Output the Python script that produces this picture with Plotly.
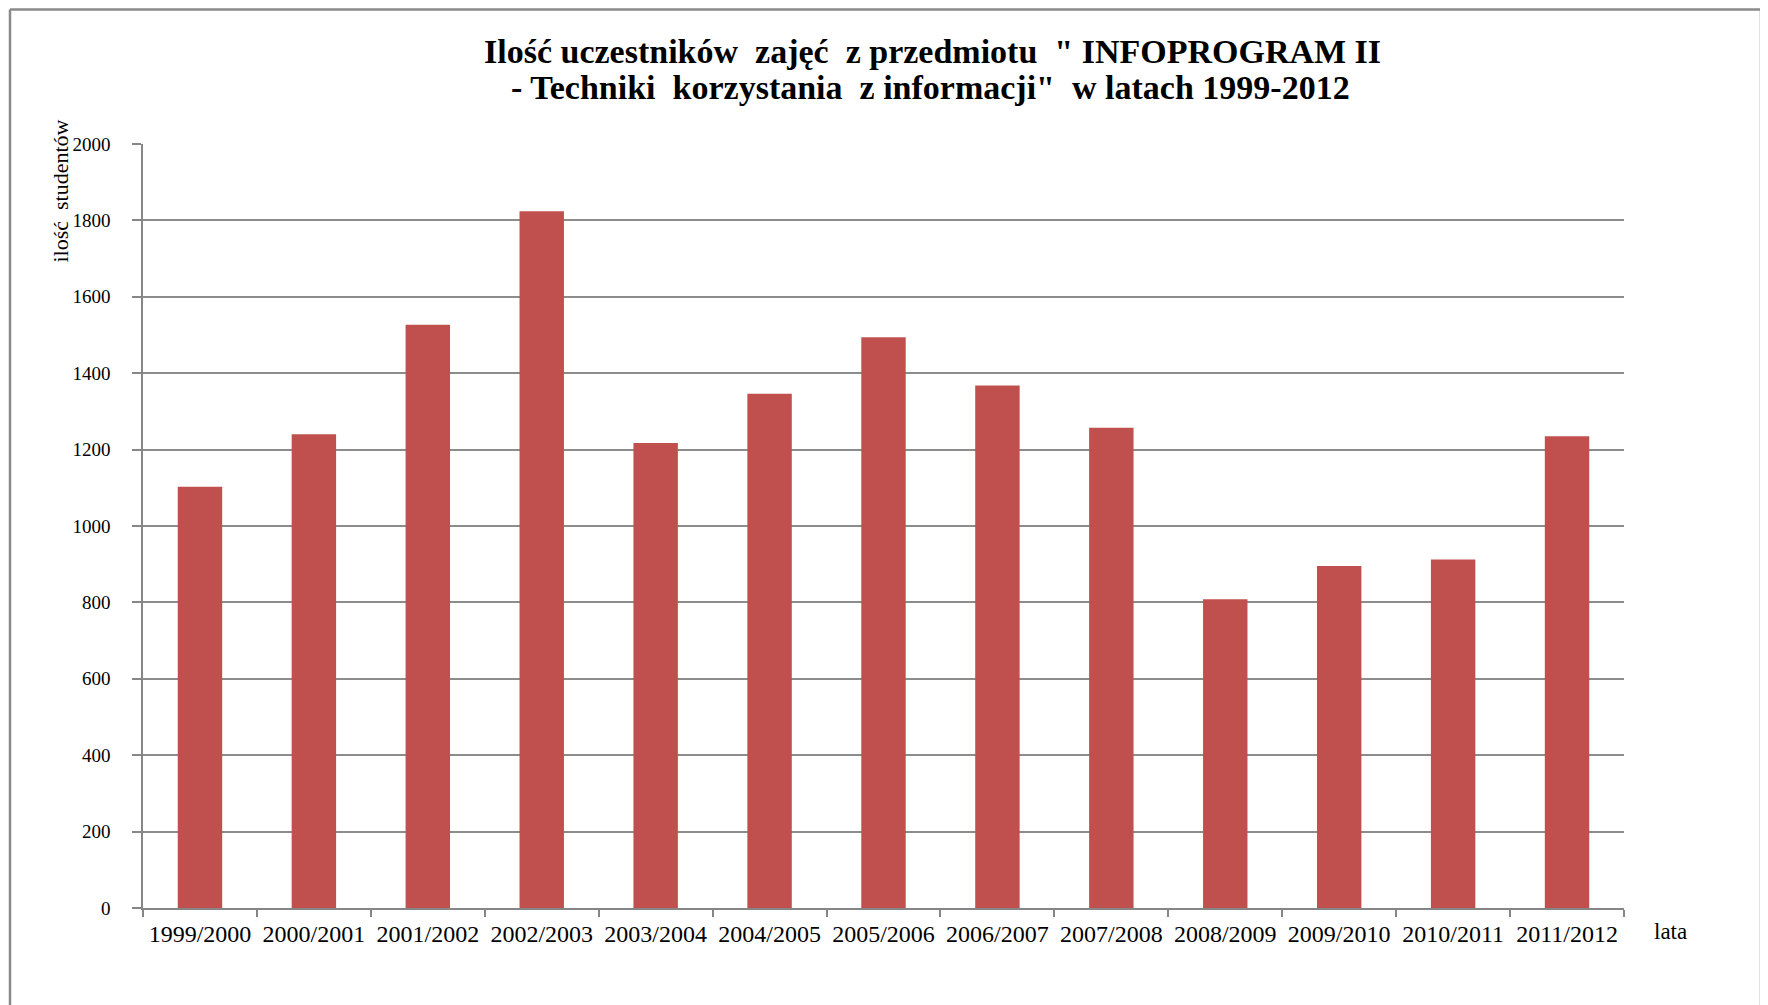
import plotly.graph_objects as go

categories = ["1999/2000", "2000/2001", "2001/2002", "2002/2003", "2003/2004",
              "2004/2005", "2005/2006", "2006/2007", "2007/2008", "2008/2009",
              "2009/2010", "2010/2011", "2011/2012"]
values = [1103, 1240, 1527, 1824, 1217, 1346, 1494, 1368, 1257, 808, 895, 912, 1235]
y_ticks = [0, 200, 400, 600, 800, 1000, 1200, 1400, 1600, 1800, 2000]

title_line1 = "Ilość uczestników  zajęć  z przedmiotu  \" INFOPROGRAM II"
title_line2 = "- Techniki  korzystania  z informacji\"  w latach 1999-2012"
y_title = "ilość  studentów"
x_title = "lata"

FONT = "Liberation Serif, Times New Roman, serif"
W, H = 1768, 1005
OFF = 8  # page offset of the figure (body margin)
# plot area in page pixels
PL, PR, PT, PB = 143, 1624, 144, 908
L, T = PL - OFF, PT - OFF
R, B = W - (PR - OFF), H - (PB - OFF)
pw, ph = PR - PL, PB - PT

def px(xp):
    return (xp - PL) / pw

def py(yp):
    return (PB - yp) / ph

fig = go.Figure()
fig.add_trace(go.Bar(x=categories, y=values, marker=dict(color="#C0504D", line=dict(width=0)),
                     width=0.39))

fig.update_layout(
    width=W, height=H,
    margin=dict(l=L, r=R, t=T, b=B),
    paper_bgcolor="white", plot_bgcolor="white",
    showlegend=False,
    font=dict(family=FONT, color="black"),
    xaxis=dict(type="category", tickson="boundaries", ticks="outside", ticklen=7,
               tickcolor="#868686", tickwidth=1.5, showline=True, linecolor="#868686",
               linewidth=1.5, showgrid=False, tickfont=dict(size=24, family=FONT),
               ticklabelstandoff=3, range=[-0.5, 12.5]),
    yaxis=dict(range=[0, 2000], tickvals=y_ticks, ticks="outside", ticklen=9,
               tickcolor="#868686", tickwidth=1.5, showline=True, linecolor="#868686",
               linewidth=1.5, showgrid=True, gridcolor="#8c8c8c", gridwidth=1.5,
               tickfont=dict(size=19, family=FONT), ticklabelstandoff=18,
               zeroline=False),
)

tfont = dict(family=FONT, size=34, color="black", weight="bold")
fig.add_annotation(text=title_line1, xref="paper", yref="paper", x=px(933), y=py(51),
                   xanchor="center", yanchor="middle", showarrow=False, font=tfont)
fig.add_annotation(text=title_line2, xref="paper", yref="paper", x=px(930), y=py(87),
                   xanchor="center", yanchor="middle", showarrow=False, font=tfont)

fig.add_annotation(text=y_title, textangle=-90, xref="paper", yref="paper",
                   x=px(60), y=py(118), xanchor="center", yanchor="top",
                   showarrow=False, font=dict(size=22, family=FONT, color="black"))
fig.add_annotation(text=x_title, xref="paper", yref="paper",
                   x=px(1671), y=py(931), xanchor="center", yanchor="middle",
                   showarrow=False, font=dict(size=23, family=FONT, color="black"))

# outer chart frame (left, top, right); top edge as high as the figure allows
frame = dict(color="#8a8a8a", width=2.5)
top_y = OFF + 1.5
fig.add_shape(type="line", xref="paper", yref="paper", x0=px(10), x1=px(10), y0=py(top_y), y1=py(1015), line=frame)
fig.add_shape(type="line", xref="paper", yref="paper", x0=px(10), x1=px(1761), y0=py(top_y), y1=py(top_y), line=frame)
fig.add_shape(type="line", xref="paper", yref="paper", x0=px(1761), x1=px(1761), y0=py(top_y), y1=py(1015), line=frame)

fig.write_html("out.html")
